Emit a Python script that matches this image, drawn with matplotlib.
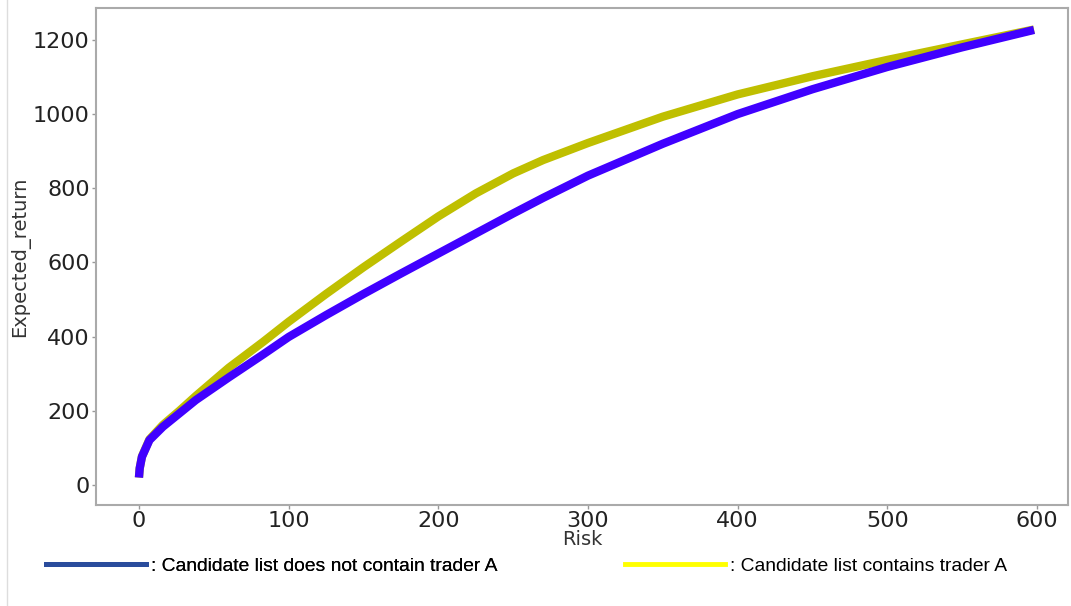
import matplotlib
matplotlib.use("Agg")
import matplotlib.pyplot as plt
from matplotlib.lines import Line2D

# Data
risk = [0, 0.5, 2, 7, 16, 27, 38, 60, 83, 100, 125, 150, 175, 200, 225, 250, 270, 300, 350, 400, 450, 500, 550, 598]
ret_without_a = [20, 45, 76, 121, 157, 193, 229, 290, 352, 399, 458, 515, 570, 624, 678, 732, 774, 834, 920, 1000, 1067, 1127, 1180, 1227]
ret_with_a = [20, 45, 77, 123, 162, 200, 240, 316, 386, 440, 515, 587, 656, 724, 786, 840, 876, 922, 993, 1053, 1102, 1146, 1188, 1228]

yticks = [0, 200, 400, 600, 800, 1000, 1200]
xticks = [0, 100, 200, 300, 400, 500, 600]
label_without = ": Candidate list does not contain trader A"
label_with = ": Candidate list contains trader A"

W, H = 1071, 606
fig = plt.figure(figsize=(W / 100, H / 100), dpi=100)
ax = fig.add_axes([96 / W, 1 - 505 / H, (1068 - 96) / W, (505 - 8) / H])

ax.plot(risk, ret_with_a, color='#bfbf00', lw=6, solid_capstyle='butt', solid_joinstyle='round', zorder=2)
ax.plot(risk, ret_without_a, color='#4000ff', lw=6, solid_capstyle='butt', solid_joinstyle='round', zorder=3)

ax.set_xlim(-28.7, 620.7)
ax.set_ylim(-54, 1286)
ax.set_xticks(xticks)
ax.set_yticks(yticks)
ax.tick_params(labelsize=16, colors='#999999', labelcolor='#222222', length=3, width=1, pad=1.5)
for s in ax.spines.values():
    s.set_color('#aaaaaa')
    s.set_linewidth(1.5)
ax.set_xlabel('Risk', fontsize=14, color='#333333', labelpad=-1)
ax.set_ylabel('Expected_return', fontsize=14, color='#333333', labelpad=2)

# screenshot border
fig.add_artist(Line2D([7 / W, 7 / W], [0, 1], transform=fig.transFigure, color='#dddddd', lw=1))

fs = 13.9
h1 = Line2D([], [], color='#2a4c9c', lw=3.5)
h2 = Line2D([], [], color='#ffff00', lw=3.5)
leg1 = fig.legend([h1], [label_without], loc='center left', bbox_to_anchor=(46 / W, 1 - 566 / H),
                  frameon=False, handlelength=5.2, handletextpad=0.25, borderpad=0, borderaxespad=0,
                  prop={'family': ['Liberation Sans', 'DejaVu Sans'], 'size': fs})
leg2 = fig.legend([h2], [label_with], loc='center left', bbox_to_anchor=(625 / W, 1 - 566 / H),
                  frameon=False, handlelength=5.2, handletextpad=0.25, borderpad=0, borderaxespad=0,
                  prop={'family': ['Liberation Sans', 'DejaVu Sans'], 'size': fs})
fig.add_artist(leg1)

fig.savefig('out.png', dpi=100)
